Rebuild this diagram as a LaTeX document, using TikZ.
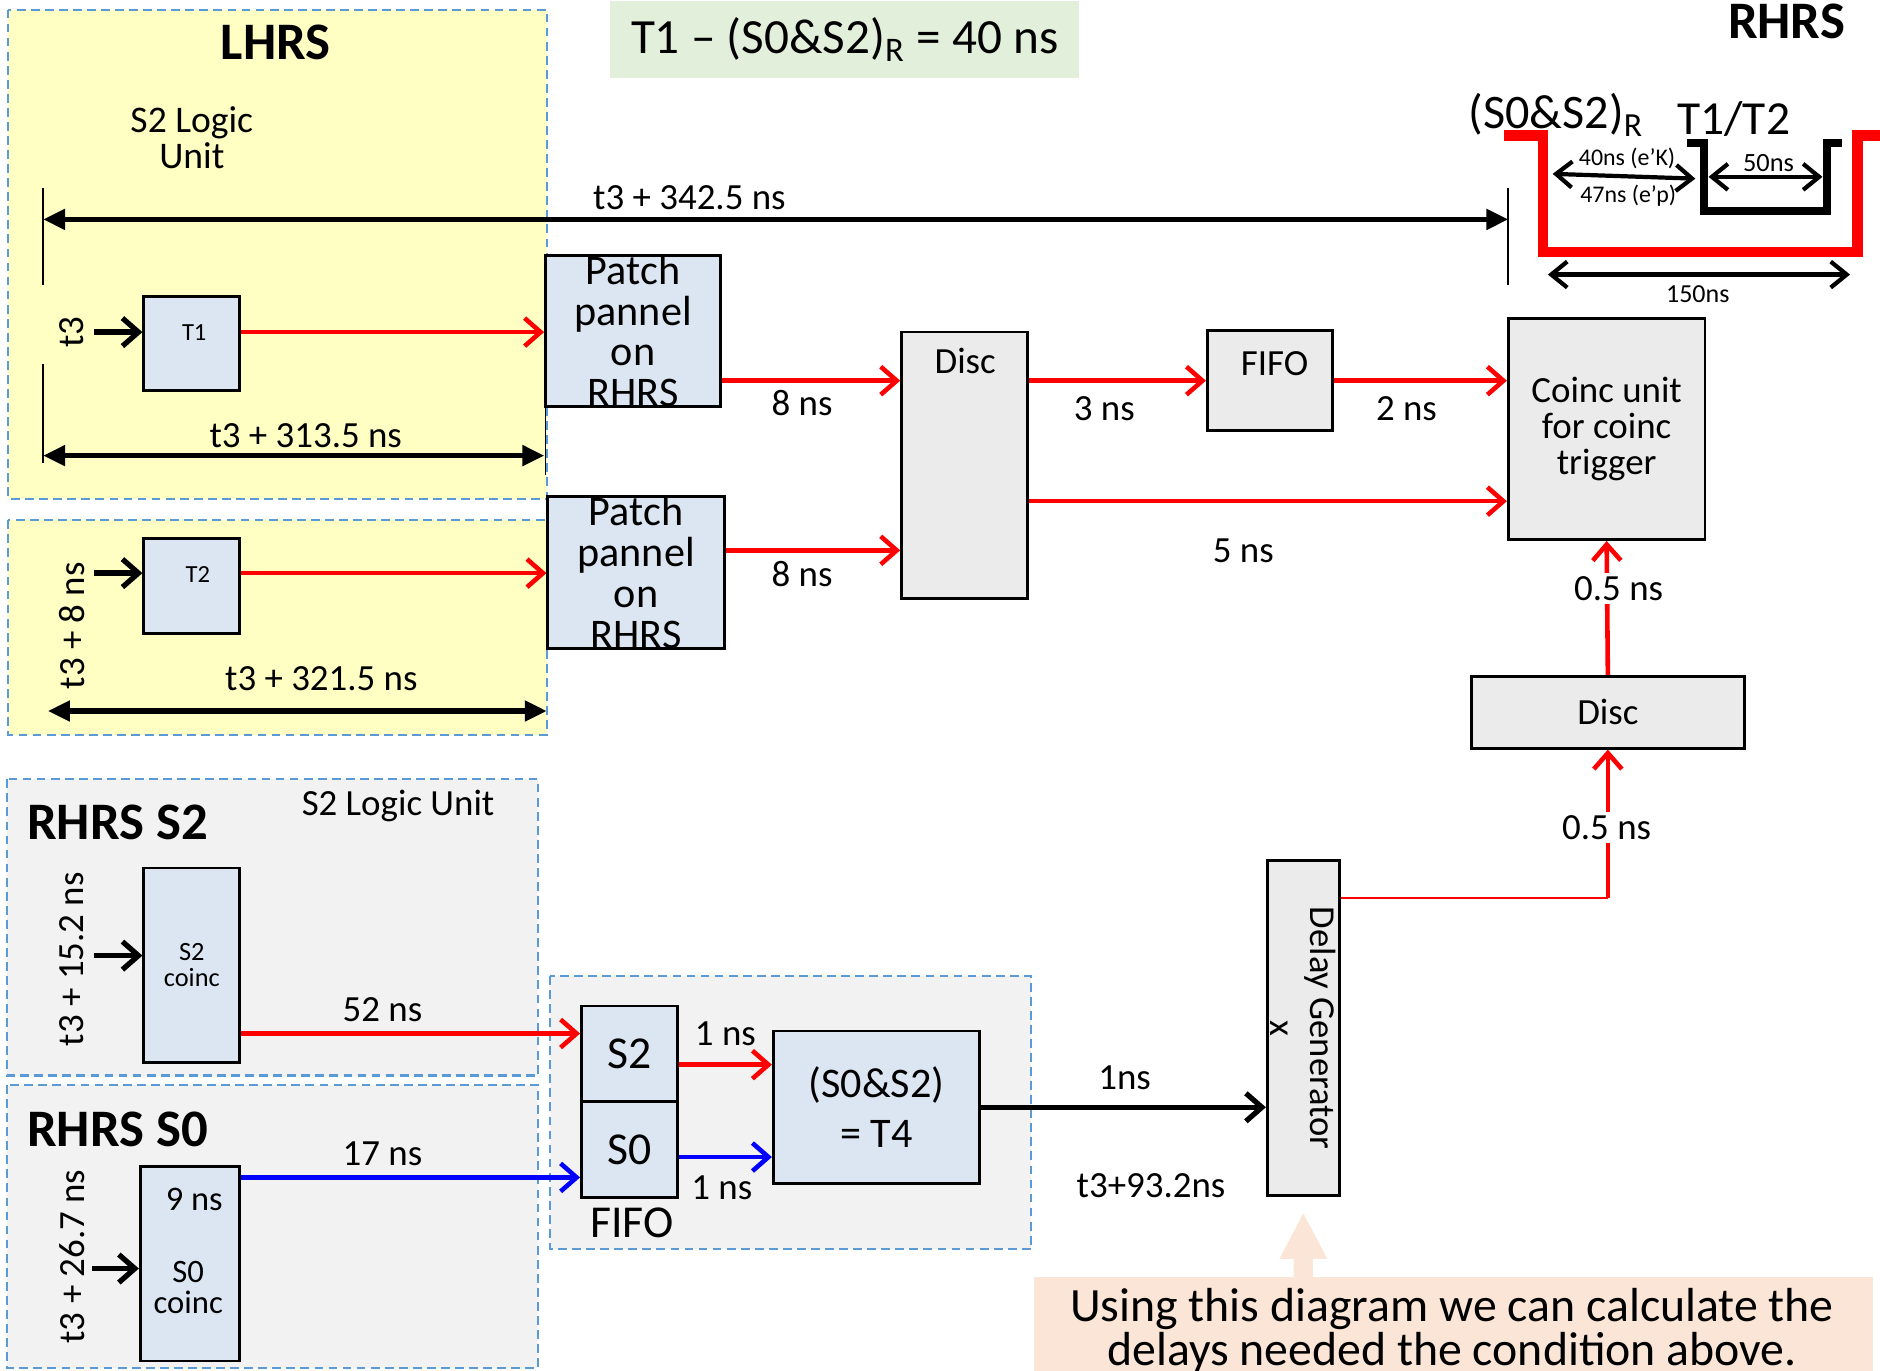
\documentclass[tikz,border=0pt]{standalone}
\usepackage{fontspec}
\setmainfont{Carlito}
\usepackage{xcolor}
\usetikzlibrary{arrows.meta,calc}
\definecolor{lhrsyellow}{HTML}{FFFFC4}
\definecolor{boxblue}{HTML}{DCE6F2}
\definecolor{boxgrey}{HTML}{EBEBEB}
\definecolor{grpgrey}{HTML}{F2F2F2}
\definecolor{grpblue}{HTML}{5B9BD5}
\definecolor{notegreen}{HTML}{E2EFDA}
\definecolor{notepeach}{HTML}{FBE5D6}
\newcommand{\fs}[2]{\fontsize{#1}{#2}\selectfont}

\begin{document}
\begin{tikzpicture}[x=0.012cm, y=-0.012cm,
    box/.style={draw, line width=0.8pt, fill=boxblue, inner sep=0pt},
    greybox/.style={box, fill=boxgrey},
    grpbox/.style={draw=grpblue, line width=0.6pt, dash pattern=on 2.5pt off 1.5pt},
    sig/.style={line width=1.3pt, -{Straight Barb[length=1.6mm,width=2.8mm]}},
    dimline/.style={line width=1.5pt, {Triangle[length=2.2mm,width=2mm]}-{Triangle[length=2.2mm,width=2mm]}},
    pulsearrow/.style={line width=1.2pt, {Straight Barb[length=1.6mm,width=2.6mm]}-{Straight Barb[length=1.6mm,width=2.6mm]}},
    tickline/.style={line width=0.5pt},
    lbl/.style={font=\fs{10.5}{12}},
    title/.style={font=\fs{15}{18}\bfseries}]
    \useasboundingbox (0,0) rectangle (1568,1143);

    % Groups
    \draw[grpbox, fill=lhrsyellow] (7,8) rectangle (456,416);
    \draw[grpbox, fill=lhrsyellow] (7,434) rectangle (456,613);
    \draw[grpbox, fill=grpgrey] (6,650) rectangle (449,897);
    \draw[grpbox, fill=grpgrey] (6,905) rectangle (449,1141);
    \draw[grpbox, fill=grpgrey] (459,814) rectangle (860,1042);

    % Notes
    \node[fill=notegreen, minimum width=4.692cm, minimum height=0.768cm, font=\fs{14}{16}] (cond) at (704.5,33)
        {T1 -- (S0\&S2)\textsubscript{R} = 40 ns};
    \fill[notepeach] (862,1065) rectangle (1562,1160);
    \fill[notepeach] (1079,1066) -- (1079,1050) -- (1067,1050) -- (1087,1012) -- (1107,1050) -- (1095,1050) -- (1095,1066) -- cycle;
    \node[align=center, font=\fs{13.6}{12.6}] (note) at (1211,1110)
        {Using this diagram we can calculate the\\delays needed the condition above.};

    % Titles
    \node[title] (lhrs) at (230,35) {LHRS};
    \node[title] (rhrs) at (1490,18) {RHRS};
    \node[title] (rhrss2) at (98,686) {RHRS S2};
    \node[title] (rhrss0) at (98,942) {RHRS S0};
    \node[align=center, font=\fs{10.7}{10.2}] (logic1) at (160,115) {S2 Logic\\Unit};
    \node[lbl] (logic2) at (332,672) {S2 Logic Unit};

    % Boxes
    \node[box, minimum width=0.96cm, minimum height=0.948cm] (T1) at (160,286.5) {};
    \node[font=\fs{7}{8}] (T1txt) at (162,277) {T1};
    \node[box, minimum width=0.96cm, minimum height=0.948cm] (T2) at (160,488.5) {};
    \node[font=\fs{7}{8}] (T2txt) at (165,479) {T2};
    \node[box, minimum width=1.752cm, minimum height=1.512cm] (pp1) at (528,276) {};
    \node[align=center, font=\fs{12}{11.6}] (pp1txt) at (pp1.center) {Patch\\pannel\\on\\RHRS};
    \node[box, minimum width=1.764cm, minimum height=1.524cm] (pp2) at (530.5,477.5) {};
    \node[align=center, font=\fs{12}{11.6}] (pp2txt) at (pp2.center) {Patch\\pannel\\on\\RHRS};
    \node[greybox, minimum width=1.26cm, minimum height=2.664cm] (disc1) at (804.5,388) {};
    \node[lbl] (disc1txt) at (805,301) {Disc};
    \node[greybox, minimum width=1.248cm, minimum height=0.996cm] (fifo1) at (1059,317.5) {};
    \node[lbl] (fifo1txt) at (1063,303) {FIFO};
    \node[greybox, minimum width=1.968cm, minimum height=2.208cm, align=center, font=\fs{10.5}{10.3}] (coinc) at (1340,358)
        {Coinc unit\\for coinc\\trigger};
    \node[greybox, minimum width=2.736cm, minimum height=0.72cm, lbl] (disc2) at (1341,594) {Disc};
    \node[greybox, minimum width=0.72cm, minimum height=3.348cm] (delay) at (1087,857.5) {};
    \node[rotate=-90, align=center, font=\fs{10.4}{11.3}] (delaytxt) at (delay.center) {Delay Generator\\x};

    \node[box, minimum width=0.96cm, minimum height=1.944cm, align=center, font=\fs{7.5}{7.5}] (s2co) at (160,805) {S2\\coinc};
    \node[box, minimum width=0.996cm, minimum height=1.944cm] (s0co) at (158.5,1054) {};
    \node[font=\fs{9.8}{10}] (s0nine) at (162,1000) {9 ns};
    \node[align=center, font=\fs{9.3}{8.8}] (s0txt) at (157,1074) {S0\\coinc};
    \node[box, minimum width=0.96cm, minimum height=0.96cm, font=\fs{13}{14}] (fs2) at (525,879) {S2};
    \node[box, minimum width=0.96cm, minimum height=0.96cm, font=\fs{13}{14}] (fs0) at (525,959) {S0};
    \node[font=\fs{13}{14}] (fifo2txt) at (527,1020) {FIFO};
    \node[box, minimum width=2.064cm, minimum height=1.524cm, align=center, font=\fs{12}{14.3}] (t4) at (731,923.5)
        {(S0\&S2)\\= T4};

    % Row heights of the signal lines
    \coordinate (inT1) at (78,277);
    \coordinate (inT2) at (78,478);
    \coordinate (inS2) at (78,797);
    \coordinate (inS0) at (77,1058);
    \coordinate (rowa) at (0,459);
    \coordinate (rowb) at (0,418);
    \coordinate (rowc) at (0,749);
    \coordinate (rowd) at (0,862);
    \coordinate (rowe) at (0,982);
    \coordinate (rowf) at (0,888);
    \coordinate (rowg) at (0,965);

    % Inputs
    \draw[sig, line width=1.5pt] (inT1) -- (inT1 -| T1.west);
    \draw[sig, line width=1.5pt] (inT2) -- (inT2 -| T2.west);
    \draw[sig, line width=1.5pt] (inS2) -- (inS2 -| s2co.west);
    \draw[sig, line width=1.5pt] (inS0) -- (inS0 -| s0co.west);
    \node[lbl, rotate=90] (tT1) at (60,277) {t3};
    \node[lbl, rotate=90] (tT2) at (60,522) {t3 + 8 ns};
    \node[lbl, rotate=90] (tS2) at (60,800) {t3 + 15.2 ns};
    \node[lbl, rotate=90] (tS0) at (60,1048) {t3 + 26.7 ns};

    % Signal lines
    \draw[sig, red] (T1.east |- inT1) -- (inT1 -| pp1.west);
    \draw[sig, red] (T2.east |- inT2) -- (inT2 -| pp2.west);
    \draw[sig, red] (pp1.east |- fifo1.west) -- (disc1.west |- fifo1.west);
    \draw[sig, red] (pp2.east |- rowa) -- (disc1.west |- rowa);
    \draw[sig, red] (disc1.east |- fifo1.west) -- (fifo1.west);
    \draw[sig, red] (fifo1.east) -- (coinc.west |- fifo1.east);
    \draw[sig, red] (disc1.east |- rowb) -- (coinc.west |- rowb);
    \draw[sig, red] (disc2.north) -- (coinc.south);
    \draw[red, line width=0.6pt] (delay.east |- rowc) -- (disc2.south |- rowc);
    \draw[sig, red] (disc2.south |- rowc) -- (disc2.south);
    \draw[sig, red] (s2co.east |- rowd) -- (fs2.west |- rowd);
    \draw[sig, blue] (s0co.east |- rowe) -- (fs0.west |- rowe);
    \draw[sig, red] (fs2.east |- rowf) -- (t4.west |- rowf);
    \draw[sig, blue] (fs0.east |- rowg) -- (t4.west |- rowg);
    \draw[sig, line width=1.5pt] (t4.east) -- (t4.east -| delay.west);

    % Delay labels
    \node[lbl] (d8a) at (669,336) {8 ns};
    \node[lbl] (d8b) at (669,479) {8 ns};
    \node[lbl] (d3) at (921,341) {3 ns};
    \node[lbl] (d2) at (1173,341) {2 ns};
    \node[lbl] (d5) at (1037,459) {5 ns};
    \node[lbl, fill=white, inner sep=1pt] (dhalfa) at (1350,491) {0.5 ns};
    \node[lbl, fill=white, inner sep=1pt] (dhalfb) at (1340,690) {0.5 ns};
    \node[lbl] (d52) at (319,842) {52 ns};
    \node[lbl] (d17) at (319,962) {17 ns};
    \node[lbl] (d1a) at (605,862) {1 ns};
    \node[lbl] (d1b) at (602,991) {1 ns};
    \node[lbl] (d1c) at (938,899) {1ns};
    \node[lbl] (dt4) at (960,989) {t3+93.2ns};

    % Timing marks
    \coordinate (mleft) at (36,183);
    \coordinate (mright) at (1258,183);
    \draw[tickline] (36,157) -- (36,238);
    \draw[tickline] (36,304) -- (36,386);
    \draw[tickline] (1258,157) -- (1258,238);
    \draw[tickline] (455,339) -- (455,396);
    \draw[dimline] (mleft) -- (mright);
    \node[lbl] (m342) at (575,165) {t3 + 342.5 ns};
    \draw[dimline] (36,380) -- (454,380);
    \node[lbl] (m313) at (255,363) {t3 + 313.5 ns};
    \draw[dimline] (40,593) -- (456,593);
    \node[lbl] (m321) at (268,566) {t3 + 321.5 ns};

    % Coincidence window
    \draw[red, line width=3pt] (1254,113) -- (1287,113) -- (1287,210) -- (1549,210) -- (1549,113) -- (1580,113);
    \draw[line width=2.3pt] (1407,119) -- (1421,119) -- (1421,176) -- (1524,176) -- (1524,119) -- (1536,119);
    \draw[pulsearrow] (1295,145) -- (1414,149);
    \draw[pulsearrow] (1425,147.5) -- (1520,147.5);
    \draw[pulsearrow] (1291,229) -- (1543,229);
    \node[font=\fs{13.7}{15}] (wS) at (1298,96) {(S0\&S2)\textsubscript{R}};
    \node[font=\fs{13.5}{15}] (wT) at (1446,99) {T1/T2};
    \node[font=\fs{6.8}{8}] (w40) at (1357,132) {40ns (e'K)};
    \node[font=\fs{6.8}{8}] (w47) at (1358,163) {47ns (e'p)};
    \node[font=\fs{7.5}{8}] (w50) at (1475,136) {50ns};
    \node[font=\fs{7.4}{8}] (w150) at (1416,245) {150ns};
\end{tikzpicture}
\end{document}
